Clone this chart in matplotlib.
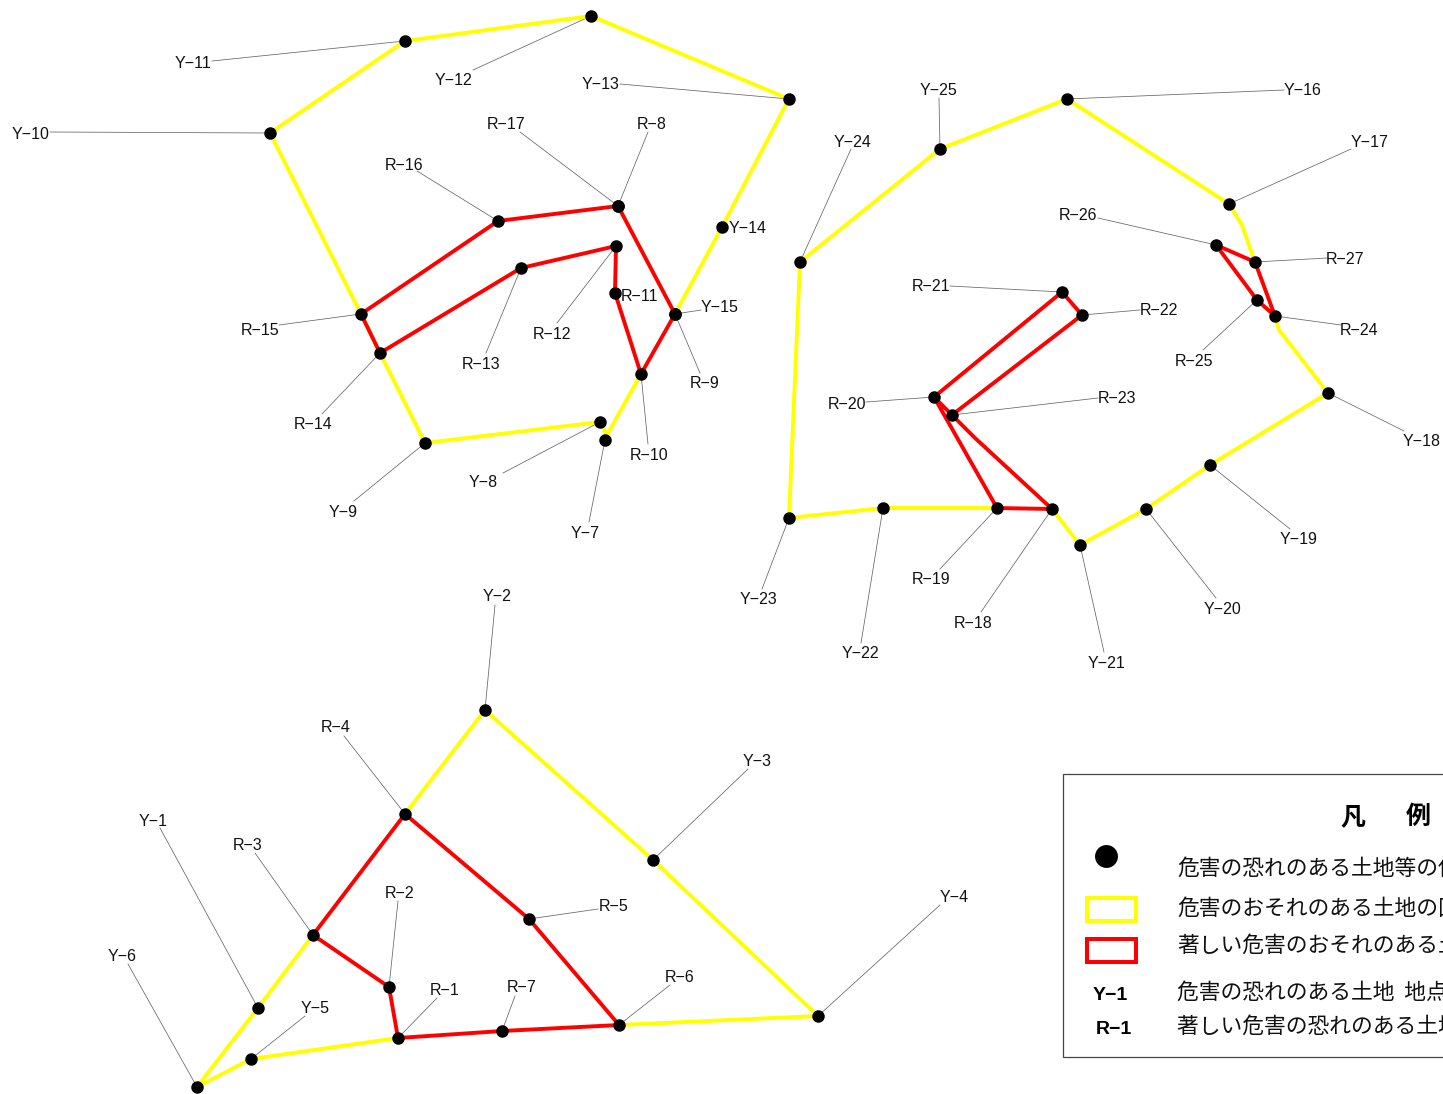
#!/usr/bin/env python3
"""Hazard zone map: yellow/red zone outlines with numbered points and legend."""
import matplotlib
matplotlib.use("Agg")
import matplotlib.pyplot as plt
from matplotlib.patches import Rectangle

plt.rcParams["font.family"] = ["Liberation Sans", "Noto Sans CJK JP"]

W, H = 1443, 1094

# zone outlines, picture coordinates
yellow_paths = [
    [(425, 443), (600, 422), (607, 435), (641, 374)],
    [(675, 314), (722, 227), (789, 99), (591, 16), (405, 41), (270, 133),
     (361, 314), (380, 353), (425, 443)],
    [(1255, 262), (1242, 225), (1229, 204), (1067, 99), (940, 149), (800, 262),
     (789, 518), (883, 508), (997, 508)],
    [(1275, 316), (1279, 330), (1328, 393), (1210, 465), (1146, 509), (1080, 545), (1052, 509)],
    [(313, 935), (258, 1008), (197, 1087), (251, 1059), (398, 1038)],
    [(405, 814), (485, 710), (653, 860), (818, 1016), (619, 1025)],
]
red_paths = [
    [(361, 314), (498, 221), (618, 206), (675, 314), (641, 374), (615, 293),
     (616, 246), (521, 268), (380, 353), (361, 314)],
    [(934, 397), (1062, 292), (1082, 315), (952, 415), (934, 397), (997, 508),
     (1052, 509), (975, 438), (952, 415)],
    [(1216, 245), (1255, 262), (1275, 316), (1257, 300), (1216, 245)],
    [(313, 935), (405, 814), (529, 919), (619, 1025), (502, 1031), (398, 1038),
     (389, 987), (313, 935)],
]

# name, label centre, start of the leader line (None = no leader), point
y_labels = [
    ("Y-1", (153, 820), (160, 828), (258, 1008)),
    ("Y-2", (497, 595), (495, 605), (485, 710)),
    ("Y-3", (757, 760), (748, 769), (653, 860)),
    ("Y-4", (954, 896), (940, 905), (818, 1016)),
    ("Y-5", (315, 1007), (305, 1016), (251, 1059)),
    ("Y-6", (122, 955), (128, 964), (197, 1087)),
    ("Y-7", (585, 532), (589, 522), (605, 440)),
    ("Y-8", (483, 481), (503, 473), (600, 422)),
    ("Y-9", (343, 511), (354, 501), (425, 443)),
    ("Y-10", (31, 133), (50, 132), (270, 133)),
    ("Y-11", (193, 62), (212, 61), (405, 41)),
    ("Y-12", (453, 79), (473, 70), (591, 16)),
    ("Y-13", (601, 83), (620, 84), (789, 99)),
    ("Y-14", (748, 227), None, (722, 227)),
    ("Y-15", (720, 306), (701, 310), (675, 314)),
    ("Y-16", (1303, 89), (1284, 90), (1067, 99)),
    ("Y-17", (1370, 141), (1351, 149), (1229, 204)),
    ("Y-18", (1422, 440), (1404, 431), (1328, 393)),
    ("Y-19", (1299, 538), (1290, 529), (1210, 465)),
    ("Y-20", (1222, 608), (1216, 598), (1146, 509)),
    ("Y-21", (1106, 662), (1104, 652), (1080, 545)),
    ("Y-22", (860, 652), (861, 643), (883, 508)),
    ("Y-23", (758, 598), (762, 589), (789, 518)),
    ("Y-24", (853, 141), (851, 149), (800, 262)),
    ("Y-25", (938, 89), (939, 98), (940, 149)),
]
r_labels = [
    ("R-1", (445, 989), (437, 998), (398, 1038)),
    ("R-2", (400, 892), (398, 901), (389, 987)),
    ("R-3", (248, 844), (255, 853), (313, 935)),
    ("R-4", (336, 726), (344, 736), (405, 814)),
    ("R-5", (614, 905), (598, 909), (529, 919)),
    ("R-6", (680, 976), (670, 985), (619, 1025)),
    ("R-7", (522, 986), (515, 996), (502, 1031)),
    ("R-8", (652, 123), (648, 132), (618, 206)),
    ("R-9", (705, 382), (700, 373), (675, 314)),
    ("R-10", (649, 454), (648, 444), (641, 374)),
    ("R-11", (639, 295), None, (615, 293)),
    ("R-12", (552, 333), (557, 323), (616, 246)),
    ("R-13", (481, 363), (486, 353), (521, 268)),
    ("R-14", (313, 423), (322, 414), (380, 353)),
    ("R-15", (260, 329), (279, 325), (361, 314)),
    ("R-16", (404, 164), (417, 171), (498, 221)),
    ("R-17", (506, 123), (520, 132), (618, 206)),
    ("R-18", (973, 622), (981, 612), (1052, 509)),
    ("R-19", (931, 578), (940, 569), (997, 508)),
    ("R-20", (847, 403), (866, 402), (934, 397)),
    ("R-21", (931, 285), (950, 286), (1062, 292)),
    ("R-22", (1159, 309), (1140, 310), (1082, 315)),
    ("R-23", (1117, 397), (1098, 398), (952, 415)),
    ("R-24", (1359, 329), (1341, 325), (1275, 316)),
    ("R-25", (1194, 360), (1203, 350), (1257, 300)),
    ("R-26", (1078, 214), (1098, 218), (1216, 245)),
    ("R-27", (1345, 258), (1327, 258), (1255, 262)),
]

legend_title = ["凡", "例"]
legend_texts = [
    "危害の恐れのある土地等の位置",
    "危害のおそれのある土地の区域",
    "著しい危害のおそれのある土地の区域",
    "危害の恐れのある土地  地点番号",
    "著しい危害の恐れのある土地  地点番号",
]
legend_text_y = [869, 909, 946, 993, 1027]

fig = plt.figure(figsize=(W / 100, H / 100), dpi=100)
ax = fig.add_axes([0, 0, 1, 1])
ax.set_xlim(0, W); ax.set_ylim(H, 0)
ax.axis("off")

for paths, col in [(yellow_paths, "#ffff00"), (red_paths, "#ff0000")]:
    for p in paths:
        ax.plot([q[0] for q in p], [q[1] for q in p], color=col, lw=2.8,
                solid_joinstyle="miter", zorder=3)

for name, (lx, ly), start, (px, py) in y_labels + r_labels:
    if start is not None:
        ax.plot([start[0], px], [start[1], py], color="#666666", lw=0.55, zorder=2)
    ax.plot(px, py, "o", color="black", ms=9, mew=0, zorder=4)
    ax.text(lx, ly + 1.2, name.replace("-", "\u2212"), fontsize=11.5, ha="center", va="center",
            color="#111111", zorder=5)

# legend, runs off the right edge like the source
ax.add_patch(Rectangle((1063, 773.5), 500, 283.5, fc="white", ec="#444444", lw=0.9, zorder=1))
ax.text(1353, 817, legend_title[0], fontsize=18, fontweight="bold", ha="center", va="center",
        family="Noto Sans CJK JP")
ax.text(1418, 817, legend_title[1], fontsize=18, fontweight="bold", ha="center", va="center",
        family="Noto Sans CJK JP")
ax.plot(1106, 856, "o", color="black", ms=16.5, mew=0)
ax.add_patch(Rectangle((1087, 898), 49, 23, fc="white", ec="#ffff00", lw=2.9))
ax.add_patch(Rectangle((1087, 939), 49, 23, fc="white", ec="#ff0000", lw=2.9))
ax.text(1110, 996, "Y\u22121", fontsize=14, fontweight="bold", ha="center", va="center")
ax.text(1114, 1029, "R\u22121", fontsize=14, fontweight="bold", ha="center", va="center")
for txt, y in zip(legend_texts, legend_text_y):
    ax.text(1177, y, txt, fontsize=15.7, ha="left", va="center", color="#111111",
            family="Noto Sans CJK JP", clip_on=True)

fig.savefig("out.png", dpi=100, facecolor="white")
print("Saved out.png")
